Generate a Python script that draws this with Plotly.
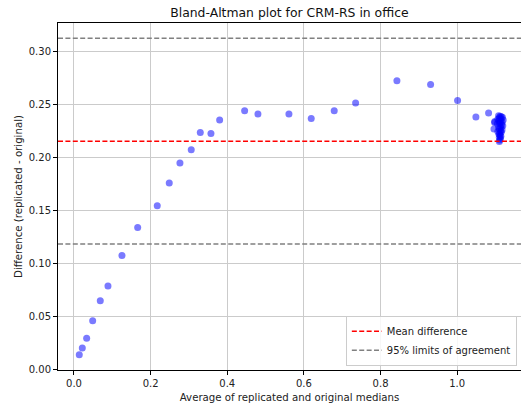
import plotly.graph_objects as go

# Average of replicated and original medians (x) and their difference (y)
avg_medians = [
    0.0138, 0.0217, 0.0331, 0.0488, 0.0686, 0.0887, 0.1252, 0.1662, 0.2173,
    0.2486, 0.2765, 0.3060, 0.3296, 0.3574, 0.3801, 0.4453, 0.4800, 0.5609,
    0.6191, 0.6791, 0.7349, 0.8427, 0.9306, 1.0010, 1.0488, 1.0819, 1.0976,
    1.0960, 1.0980,
    1.1080, 1.1120, 1.1150, 1.1100, 1.1180, 1.1060, 1.1140, 1.1200, 1.1090,
    1.1130, 1.1170, 1.1110, 1.1050, 1.1160, 1.1190, 1.1120, 1.1080, 1.1140,
    1.1100, 1.1170, 1.1130, 1.1060, 1.1150, 1.1110, 1.1090, 1.1120, 1.1140,
    1.1100, 1.1130, 1.1110, 1.1100,
]
differences = [
    0.0138, 0.0201, 0.0293, 0.0457, 0.0648, 0.0787, 0.1074, 0.1338, 0.1543,
    0.1758, 0.1947, 0.2073, 0.2236, 0.2227, 0.2353, 0.2441, 0.2410, 0.2410,
    0.2369, 0.2441, 0.2514, 0.2725, 0.2690, 0.2539, 0.2382, 0.2420, 0.2331,
    0.2270, 0.2340,
    0.2395, 0.2390, 0.2385, 0.2375, 0.2380, 0.2360, 0.2365, 0.2355, 0.2345,
    0.2340, 0.2335, 0.2325, 0.2320, 0.2310, 0.2300, 0.2295, 0.2285, 0.2280,
    0.2270, 0.2260, 0.2250, 0.2245, 0.2240, 0.2230, 0.2220, 0.2210, 0.2200,
    0.2190, 0.2180, 0.2165, 0.2150,
]

mean_diff = 0.2153
loa_upper = 0.3125
loa_lower = 0.1184

x_ticks = [0.0, 0.2, 0.4, 0.6, 0.8, 1.0]
y_ticks = [0.00, 0.05, 0.10, 0.15, 0.20, 0.25, 0.30]

x_range = [-0.0417, 1.1665]
y_range = [-0.0007, 0.3270]

font_family = "DejaVu Sans"
text_color = "#222222"

fig = go.Figure()

fig.add_trace(go.Scatter(
    x=avg_medians, y=differences, mode="markers",
    marker=dict(size=7, color="rgba(0,0,255,0.52)", line=dict(width=0)),
    showlegend=False, hoverinfo="skip",
))

# Mean difference and limits of agreement, spanning the full x range
dash_style = "5px,2.4px"
fig.add_trace(go.Scatter(
    x=x_range, y=[mean_diff, mean_diff], mode="lines",
    line=dict(color="#ff0000", width=1.5, dash=dash_style),
    name="Mean difference",
))
fig.add_trace(go.Scatter(
    x=x_range, y=[loa_upper, loa_upper], mode="lines",
    line=dict(color="#808080", width=1.5, dash=dash_style),
    name="95% limits of agreement",
))
fig.add_trace(go.Scatter(
    x=x_range, y=[loa_lower, loa_lower], mode="lines",
    line=dict(color="#808080", width=1.5, dash=dash_style),
    showlegend=False,
))

axis_common = dict(
    showgrid=True, gridcolor="#cbcbcb", gridwidth=1,
    zeroline=False, showline=True, linecolor="#000000", linewidth=1,
    ticks="outside", ticklen=4, tickwidth=1, tickcolor="#000000",
    tickfont=dict(family=font_family, size=10, color=text_color),
)

fig.update_xaxes(
    range=x_range, tickvals=x_ticks, tickformat=".1f", mirror=True,
    title=dict(text="Average of replicated and original medians",
               font=dict(family=font_family, size=10.2, color=text_color),
               standoff=5),
    **axis_common,
)
fig.update_yaxes(
    range=y_range, tickvals=y_ticks, tickformat=".2f",
    title=dict(text="Difference (replicated - original)",
               font=dict(family=font_family, size=10.2, color=text_color),
               standoff=4),
    **axis_common,
)

fig.update_layout(
    width=521, height=407,
    margin=dict(l=58, r=0, t=23, b=37),
    paper_bgcolor="white", plot_bgcolor="white",
    title=dict(text="Bland-Altman plot for CRM-RS in office",
               x=0.5555, xanchor="center", y=0.969, yanchor="middle",
               font=dict(family=font_family, size=12.4, color="#111111")),
    legend=dict(
        x=0.991, y=0.012, xanchor="right", yanchor="bottom",
        bgcolor="rgba(255,255,255,0.85)", bordercolor="#cccccc", borderwidth=1,
        font=dict(family=font_family, size=10, color=text_color),
        itemwidth=30, tracegroupgap=0,
    ),
    showlegend=True,
)

fig.write_html("out.html")
